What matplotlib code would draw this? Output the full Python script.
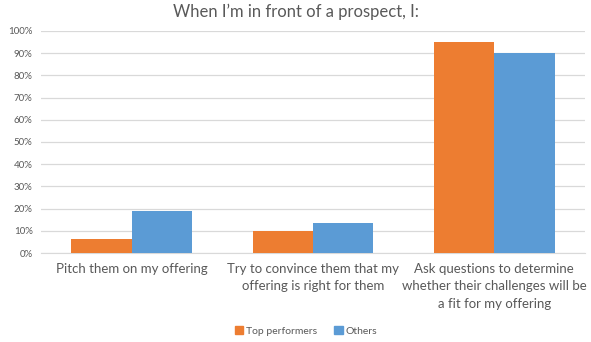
import matplotlib
matplotlib.use("Agg")
import matplotlib.pyplot as plt
import numpy as np
from matplotlib.ticker import PercentFormatter, MultipleLocator
from matplotlib.patches import Patch

categories = [
    "Pitch them on my offering",
    "Try to convince them that my\noffering is right for them",
    "Ask questions to determine\nwhether their challenges will be\na fit for my offering",
]
top_performers = [6.5, 10, 95]
others = [19, 13.5, 90]
series_names = ["Top performers", "Others"]
colors = ["#ED7D31", "#5B9BD5"]

plt.rcParams["font.family"] = ["Lato", "DejaVu Sans"]
text_color = "#595959"

fig = plt.figure(figsize=(5.91, 3.42), dpi=100)
ax = fig.add_axes([0.0694, 0.2602, 0.9204, 0.6492])

x = np.arange(len(categories))
w = 1 / 3
ax.bar(x - w / 2, top_performers, w, color=colors[0], label=series_names[0], zorder=3)
ax.bar(x + w / 2, others, w, color=colors[1], label=series_names[1], zorder=3)

ax.set_xlim(-0.5, len(categories) - 0.5)
ax.set_ylim(0, 100)
ax.yaxis.set_major_locator(MultipleLocator(10))
ax.yaxis.set_major_formatter(PercentFormatter(decimals=0))
ax.grid(axis="y", color="#D9D9D9", linewidth=0.9, zorder=0)
for s in ["top", "right", "left"]:
    ax.spines[s].set_visible(False)
ax.spines["bottom"].set_color("#D9D9D9")
ax.tick_params(axis="y", length=0, labelsize=7, labelcolor=text_color, pad=6)
ax.tick_params(axis="x", length=0, labelsize=9.5, labelcolor=text_color, pad=7)
ax.set_xticks(x)
ax.set_xticklabels(categories, linespacing=1.55, va="top")

fig.text(0.5, 0.965, "When I\u2019m in front of a prospect, I:", ha="center", va="center",
         fontsize=12, color=text_color)

handles = [Patch(color=c, label=n) for c, n in zip(colors, series_names)]
fig.legend(handles=handles, loc="center", bbox_to_anchor=(0.518, 0.032), ncol=2,
           frameon=False, fontsize=7.5, labelcolor=text_color, handlelength=0.8,
           handleheight=0.8, handletextpad=0.3, columnspacing=1.6)

fig.savefig("out.png", dpi=100, facecolor="white")
